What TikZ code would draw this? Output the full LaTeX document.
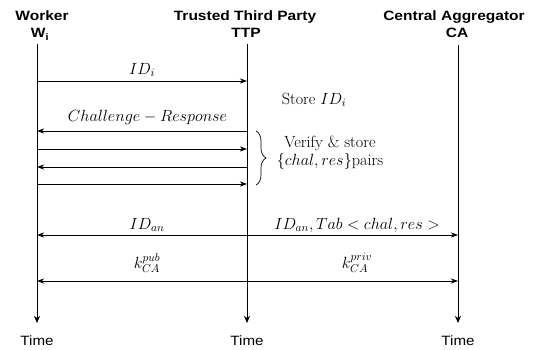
\RequirePackage{fix-cm}
\documentclass[tikz,border=0pt]{standalone}
\usepackage{fontspec}
\newfontfamily\hfont{Liberation Sans}
\usetikzlibrary{arrows.meta,decorations.pathreplacing}
\tikzset{
  hdr/.style={inner sep=0pt, anchor=base, xscale=1.15, transform shape, font=\hfont\bfseries\fontsize{13.5}{15}\selectfont},
  timelbl/.style={inner sep=0pt, xscale=1.12, transform shape, font=\hfont\fontsize{13.5}{15}\selectfont},
  lbl/.style={inner sep=0pt, font=\fontsize{16.2}{18}\selectfont},
  life/.style={line width=0.8pt, -{Stealth[length=7pt,width=6pt,inset=2pt]}},
  msg/.style={line width=0.8pt, -{Stealth[length=7pt,width=5pt,inset=2pt]}},
  dmsg/.style={line width=0.8pt, {Stealth[length=7pt,width=5pt,inset=2pt]}-{Stealth[length=7pt,width=5pt,inset=2pt]}}
}
\begin{document}
\begin{tikzpicture}[x=1pt,y=-1pt]
\useasboundingbox (0,0) rectangle (535,350);
% headers
\node[hdr] (hw1) at (42,21) {Worker};
\node[hdr] (hw2) at (40,38) {W\textsubscript{i}};
\node[hdr] (ht1) at (245,21) {Trusted Third Party};
\node[hdr] (ht2) at (246,38) {TTP};
\node[hdr] (hc1) at (454,21) {Central Aggregator};
\node[hdr] (hc2) at (457,38) {CA};
% lifelines
\coordinate (wT) at (37,44);
\coordinate (tT) at (247,44);
\coordinate (cT) at (458,45);
\coordinate (wE) at (37,323);
\coordinate (tE) at (247,323);
\coordinate (cE) at (458,323);
\draw[life] (wT) -- (wE);
\draw[life] (tT) -- (tE);
\draw[life] (cT) -- (cE);
\node[timelbl] (tw) at (37,341) {Time};
\node[timelbl] (tt) at (247,341) {Time};
\node[timelbl] (tc) at (458,341) {Time};
% message coordinates
\coordinate (w1) at (37,81);   \coordinate (t1) at (247,81);
\coordinate (w2) at (37,131);  \coordinate (t2) at (247,131);
\coordinate (w3) at (37,149);  \coordinate (t3) at (247,149);
\coordinate (w4) at (37,167);  \coordinate (t4) at (247,167);
\coordinate (w5) at (37,184);  \coordinate (t5) at (247,184);
\coordinate (w6) at (37,235);  \coordinate (c6) at (458,235);
\coordinate (w7) at (37,281);  \coordinate (c7) at (458,281);
% messages
\draw[msg] (w1) -- (t1);
\node[lbl] (l1) at (142,70) {$ID_i$};
\node[lbl] (ls) at (314,100) {Store $ID_i$};
\draw[msg] (t2) -- (w2);
\node[lbl] (l2) at (147.5,117) {$Challenge - Response$};
\draw[msg] (w3) -- (t3);
\draw[msg] (t4) -- (w4);
\draw[msg] (w5) -- (t5);
\coordinate (b1) at (256,131);
\coordinate (b2) at (256,185);
\draw[line width=0.7pt, decorate, decoration={brace, amplitude=10pt}] (b1) -- (b2);
\node[lbl, align=center] (lv) at (330,153) {Verify \& store\\$\{chal, res\}$pairs};
\draw[dmsg] (w6) -- (c6);
\node[lbl] (l6a) at (147,225) {$ID_{an}$};
\node[lbl] (l6b) at (357,225) {$ID_{an}, Tab < chal, res >$};
\draw[dmsg] (w7) -- (c7);
\node[lbl] (l7a) at (147,263) {$k_{CA}^{pub}$};
\node[lbl] (l7b) at (357,263) {$k_{CA}^{priv}$};
\end{tikzpicture}
\end{document}
